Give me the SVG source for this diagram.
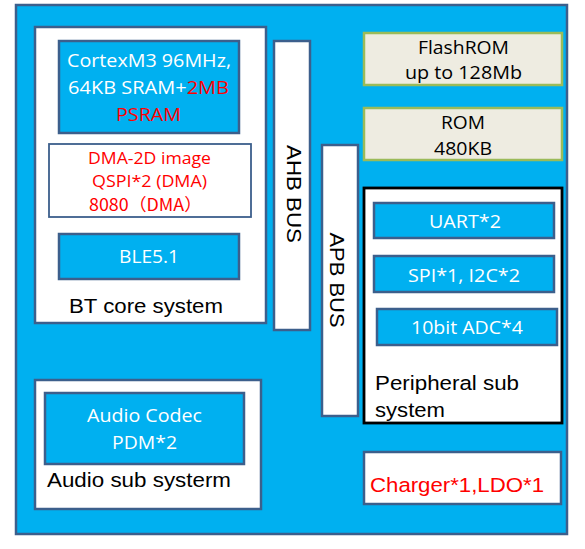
<svg xmlns="http://www.w3.org/2000/svg" width="585" height="549" viewBox="0 0 585 549">
<style>
.blue{fill:#00b0f0;stroke:#3c5f8c;stroke-width:2.5}
.white{fill:#ffffff;stroke:#3c5f8c;stroke-width:2.5}
.rom{fill:#eeece1;stroke:#9bbb59;stroke-width:2.5}
.c{font-family:"Open Sans","Noto Sans",sans-serif;font-size:18.5px;text-anchor:middle}
.a{font-family:"Liberation Sans",Arial,sans-serif;font-size:20.5px;fill:#000}
.w{fill:#ffffff}
.r{fill:#ff0000}
.k{fill:#000000}
</style>
<rect x="16" y="5" width="551" height="529" class="blue"/>
<g id="bt-core">
<rect x="35" y="27" width="231" height="296" class="white"/>
<text x="69" y="313" class="a" textLength="154" lengthAdjust="spacingAndGlyphs">BT core system</text>
</g>
<g id="cortex">
<rect x="59" y="41" width="180" height="92" class="blue"/>
<text x="149" y="67" class="c w" textLength="164" lengthAdjust="spacingAndGlyphs">CortexM3 96MHz,</text>
<text x="148.5" y="94" class="c w" textLength="161" lengthAdjust="spacingAndGlyphs">64KB SRAM+<tspan class="r">2MB</tspan></text>
<text x="148.5" y="121" class="c r" textLength="65" lengthAdjust="spacingAndGlyphs">PSRAM</text>
</g>
<g id="dma">
<rect x="49" y="144" width="202" height="73" style="fill:#fff;stroke:#3c5f8c;stroke-width:1.8"/>
<text x="149.5" y="164" class="c r" style="font-size:17px" textLength="123" lengthAdjust="spacingAndGlyphs">DMA-2D image</text>
<text x="149.5" y="187" class="c r" style="font-size:17px" textLength="115" lengthAdjust="spacingAndGlyphs">QSPI*2 (DMA)</text>
<text x="89" y="211" class="c r" style="font-size:17px;text-anchor:start;font-family:'Noto Sans CJK SC','Open Sans',sans-serif" textLength="113" lengthAdjust="spacingAndGlyphs">8080（DMA）</text>
</g>
<g id="ble">
<rect x="59" y="234" width="180" height="45" class="blue"/>
<text x="149" y="263" class="c w" textLength="60" lengthAdjust="spacingAndGlyphs">BLE5.1</text>
</g>
<g id="ahb">
<rect x="274" y="41" width="36" height="289" class="white"/>
<text transform="translate(287,194) rotate(90)" x="0" y="0" class="a" style="text-anchor:middle" textLength="98" lengthAdjust="spacingAndGlyphs">AHB BUS</text>
</g>
<g id="apb">
<rect x="322" y="145" width="36" height="271" class="white"/>
<text transform="translate(330,280) rotate(90)" x="0" y="0" class="a" style="text-anchor:middle" textLength="95" lengthAdjust="spacingAndGlyphs">APB BUS</text>
</g>
<g id="flashrom">
<rect x="364" y="33" width="198" height="52" class="rom"/>
<text x="463.5" y="54" class="c k" textLength="91" lengthAdjust="spacingAndGlyphs">FlashROM</text>
<text x="463.5" y="79" class="c k" textLength="117" lengthAdjust="spacingAndGlyphs">up to 128Mb</text>
</g>
<g id="rom">
<rect x="364" y="108" width="198" height="52" class="rom"/>
<text x="463" y="129" class="c k" textLength="44" lengthAdjust="spacingAndGlyphs">ROM</text>
<text x="463" y="155" class="c k" textLength="58" lengthAdjust="spacingAndGlyphs">480KB</text>
</g>
<g id="peripheral">
<rect x="364" y="188" width="198" height="235" style="fill:#fff;stroke:#000;stroke-width:2.8"/>
<text x="375" y="390" class="a" textLength="144" lengthAdjust="spacingAndGlyphs">Peripheral sub</text>
<text x="375" y="417" class="a" textLength="70" lengthAdjust="spacingAndGlyphs">system</text>
</g>
<g id="uart">
<rect x="374" y="203" width="180" height="35" class="blue"/>
<text x="465" y="228" class="c w" textLength="72" lengthAdjust="spacingAndGlyphs">UART*2</text>
</g>
<g id="spi">
<rect x="374" y="256" width="180" height="36" class="blue"/>
<text x="464" y="282" class="c w" textLength="112" lengthAdjust="spacingAndGlyphs">SPI*1, I2C*2</text>
</g>
<g id="adc">
<rect x="377" y="309" width="180" height="36" class="blue"/>
<text x="467" y="334" class="c w" textLength="112" lengthAdjust="spacingAndGlyphs">10bit ADC*4</text>
</g>
<g id="charger">
<rect x="364" y="452" width="197" height="52" class="white"/>
<text x="370" y="492" class="a r" textLength="174" lengthAdjust="spacingAndGlyphs">Charger*1,LDO*1</text>
</g>
<g id="audio-sub">
<rect x="35" y="380" width="226" height="129" class="white"/>
<text x="47" y="487" class="a" textLength="184" lengthAdjust="spacingAndGlyphs">Audio sub systerm</text>
</g>
<g id="audio-codec">
<rect x="45" y="393" width="199" height="71" class="blue"/>
<text x="144.5" y="422" class="c w" textLength="115" lengthAdjust="spacingAndGlyphs">Audio Codec</text>
<text x="144.5" y="449" class="c w" textLength="65" lengthAdjust="spacingAndGlyphs">PDM*2</text>
</g>
<g id="connectors"></g>
</svg>
